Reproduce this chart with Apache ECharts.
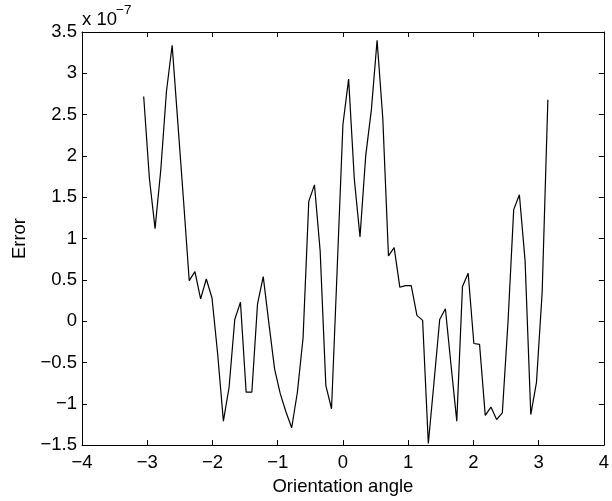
<!DOCTYPE html>
<html>
<head>
<meta charset="utf-8">
<script src="https://cdn.jsdelivr.net/npm/echarts@6/dist/echarts.min.js"></script>
<style>
html,body{margin:0;padding:0;background:#fff;}
#c{width:612px;height:501px;}
</style>
</head>
<body>
<div id="c"></div>
<script>
// Orientation angles (rad) at which the error was sampled
const angles = [
 -3.0543,-2.9671,-2.8798,-2.7925,-2.7053,-2.6180,-2.5307,-2.4435,-2.3562,-2.2689,
 -2.1817,-2.0944,-2.0071,-1.9199,-1.8326,-1.7453,-1.6581,-1.5708,-1.4835,-1.3963,
 -1.3090,-1.2217,-1.1345,-1.0472,-0.9599,-0.8727,-0.7854,-0.6981,-0.6109,-0.5236,
 -0.4363,-0.3491,-0.2618,-0.1745,-0.0873,0.0000,0.0873,0.1745,0.2618,0.3491,
 0.4363,0.5236,0.6109,0.6981,0.7854,0.8727,0.9599,1.0472,1.1345,1.2217,
 1.3090,1.3963,1.4835,1.5708,1.6581,1.7453,1.8326,1.9199,2.0071,2.0944,
 2.1817,2.2689,2.3562,2.4435,2.5307,2.6180,2.7053,2.7925,2.8798,2.9671,
 3.0543,3.1416
];
// Error values in units of 1e-7
const errorE7 = [
 2.72,1.73,1.12,1.83,2.78,3.34,2.40,1.46,0.49,0.60,
 0.27,0.51,0.28,-0.40,-1.21,-0.80,0.02,0.23,-0.86,-0.86,
 0.21,0.54,-0.03,-0.58,-0.88,-1.10,-1.29,-0.86,-0.20,1.45,
 1.65,0.85,-0.78,-1.06,0.65,2.38,2.93,1.72,1.02,2.00,
 2.56,3.40,2.46,0.79,0.89,0.41,0.43,0.43,0.07,0.01,
 -1.48,-0.74,0.02,0.15,-0.54,-1.21,0.42,0.58,-0.27,-0.28,
 -1.14,-1.04,-1.19,-1.11,-0.01,1.35,1.53,0.73,-1.13,-0.74,
 0.35,2.68
];
const xTitle = 'Orientation angle';
const yTitle = 'Error';
const exponentBase = 'x 10';
const exponent = '−7';

const FONT = 'Liberation Sans, Arial, Helvetica, sans-serif';
const FS = 18.5;
const fmt = v => String(+v.toFixed(2)).replace('-', '−');

const chart = echarts.init(document.getElementById('c'), null, {renderer: 'canvas'});
const common = {
  axisLine: {show: true, onZero: false, lineStyle: {color: '#000', width: 1}},
  axisTick: {show: true, inside: true, length: 5, lineStyle: {color: '#000', width: 1}},
  splitLine: {show: false}
};
chart.setOption({
  animation: false,
  backgroundColor: '#fff',
  grid: {left: 82, right: 4, top: 32, bottom: 54, containLabel: false},
  xAxis: [
    Object.assign({
      type: 'value', min: -4, max: 4, interval: 1, position: 'bottom',
      name: xTitle, nameLocation: 'middle', nameGap: 29,
      nameTextStyle: {fontFamily: FONT, fontSize: FS, color: '#000'},
      axisLabel: {fontFamily: FONT, fontSize: FS, color: '#000', margin: 8, formatter: fmt, showMaxLabel: true, showMinLabel: true}
    }, common),
    Object.assign({
      type: 'value', min: -4, max: 4, interval: 1, position: 'top',
      axisLabel: {show: false}
    }, common)
  ],
  yAxis: [
    Object.assign({
      type: 'value', min: -1.5, max: 3.5, interval: 0.5, position: 'left',
      name: yTitle, nameLocation: 'middle', nameGap: 52,
      nameTextStyle: {fontFamily: FONT, fontSize: FS, color: '#000'},
      axisLabel: {fontFamily: FONT, fontSize: FS, color: '#000', margin: 5, formatter: fmt}
    }, common),
    Object.assign({
      type: 'value', min: -1.5, max: 3.5, interval: 0.5, position: 'right',
      axisLabel: {show: false}
    }, common)
  ],
  graphic: [
    {type: 'text', left: 82, top: 10, style: {text: exponentBase, font: FS + 'px ' + FONT, fill: '#000'}},
    {type: 'text', left: 116, top: 3, style: {text: exponent, font: '13.5px ' + FONT, fill: '#000'}}
  ],
  series: [{
    type: 'line',
    data: angles.map((a, i) => [a, errorE7[i]]),
    showSymbol: false,
    lineStyle: {color: '#000', width: 1.2},
    clip: false
  }]
});
</script>
</body>
</html>
